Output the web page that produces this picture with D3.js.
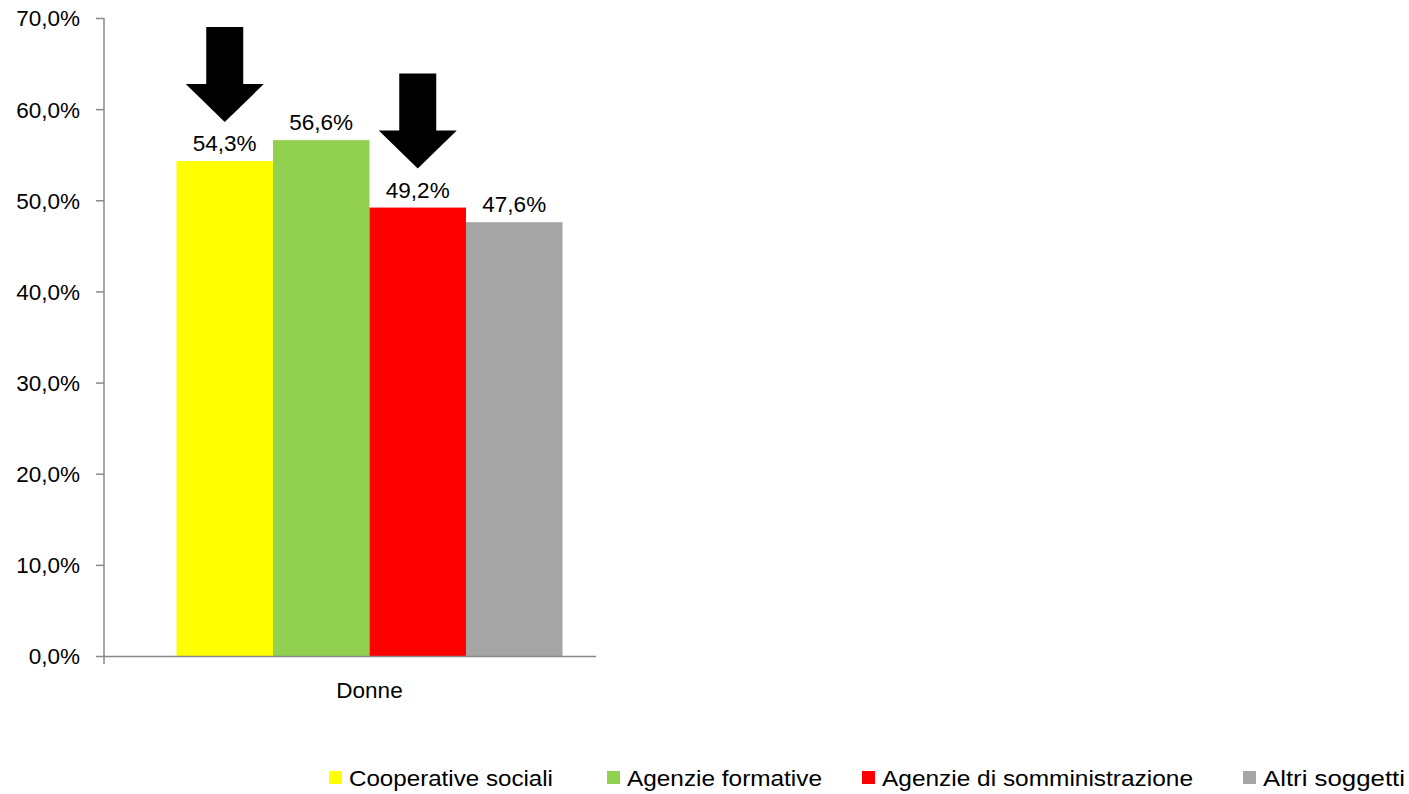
<!DOCTYPE html>
<html><head><meta charset="utf-8">
<script src="https://cdn.jsdelivr.net/npm/d3@7"></script>
<style>body{margin:0;background:#fff;} svg{display:block;}</style>
</head><body>
<svg id="c" width="1409" height="794"></svg>
<script>
const categories = ["Donne"];
const seriesNames = ["Cooperative sociali","Agenzie formative","Agenzie di somministrazione","Altri soggetti"];
const seriesValues = [54.3, 56.6, 49.2, 47.6];
const seriesColors = ["#FFFF00","#92D050","#FF0000","#A5A5A5"];
const yTicks = [0,10,20,30,40,50,60,70];
const arrowSeries = [0, 2];

const svg = d3.select("#c");
const font = "'Liberation Sans', Arial, sans-serif";
const fs = 22.5;
const y = d3.scaleLinear().domain([0,70]).range([656,18]);
const x0 = d3.scaleBand().domain(categories).range([104,635]).paddingInner(0).paddingOuter(0.1878);
const x1 = d3.scaleBand().domain(seriesNames).range([0, x0.bandwidth()]);

// axes
const fmt = v => d3.format(".1f")(v).replace(".", ",") + "%";
const yAxis = d3.axisLeft(y).tickValues(yTicks).tickSize(8).tickFormat(fmt);
const gy = svg.append("g").attr("transform","translate(104,0)").call(yAxis);
gy.select(".domain").attr("stroke","#888").attr("stroke-width",1.5).attr("d","M0,18V656");
gy.selectAll(".tick line").attr("stroke","#888").attr("stroke-width",1.5);
gy.selectAll(".tick text").attr("font-family",font).attr("font-size",fs).attr("fill","#000").attr("x",-24).attr("dy","0.35em");

// bars
const g = svg.append("g");
categories.forEach(cat => {
  seriesNames.forEach((s,i) => {
    g.append("rect").attr("x", x0(cat)+x1(s)).attr("y", y(seriesValues[i]))
      .attr("width", x1.bandwidth()).attr("height", y(0)-y(seriesValues[i]))
      .attr("fill", seriesColors[i]);
    g.append("text").attr("x", x0(cat)+x1(s)+x1.bandwidth()/2).attr("y", y(seriesValues[i])-10)
      .attr("text-anchor","middle").attr("font-family",font).attr("font-size",fs).attr("fill","#000")
      .text(fmt(seriesValues[i]));
  });
});

// x axis
svg.append("line").attr("x1",104).attr("x2",596).attr("y1",656.5).attr("y2",656.5).attr("stroke","#888").attr("stroke-width",1.5);
svg.append("line").attr("x1",104).attr("x2",104).attr("y1",656).attr("y2",664).attr("stroke","#888").attr("stroke-width",1.5);
categories.forEach(cat => {
  svg.append("text").attr("x", x0(cat)+x0.bandwidth()/2).attr("y",698).attr("text-anchor","middle")
    .attr("font-family",font).attr("font-size",fs).attr("fill","#000").text(cat);
});

// arrows
arrowSeries.forEach(i => {
  const cx = x0(categories[0]) + x1(seriesNames[i]) + x1.bandwidth()/2;
  const tip = y(seriesValues[i]) - 39;
  const top = tip - 95, headBase = tip - 38;
  const p = [[cx-18.5,top],[cx+18.5,top],[cx+18.5,headBase],[cx+39,headBase],[cx,tip],[cx-39,headBase],[cx-18.5,headBase]];
  svg.append("path").attr("d", d3.line()(p) + "Z").attr("fill","#000");
});

// legend
const legX = [329, 607, 862, 1243];
const legW = [204, 195, 311, 142];
seriesNames.forEach((s,i) => {
  svg.append("rect").attr("x",legX[i]).attr("y",771).attr("width",13).attr("height",13).attr("fill",seriesColors[i]);
  svg.append("text").attr("x",legX[i]+20).attr("y",786).attr("font-family",font).attr("font-size",fs)
    .attr("textLength",legW[i]).attr("lengthAdjust","spacingAndGlyphs").attr("fill","#000").text(s);
});
</script>
</body></html>
